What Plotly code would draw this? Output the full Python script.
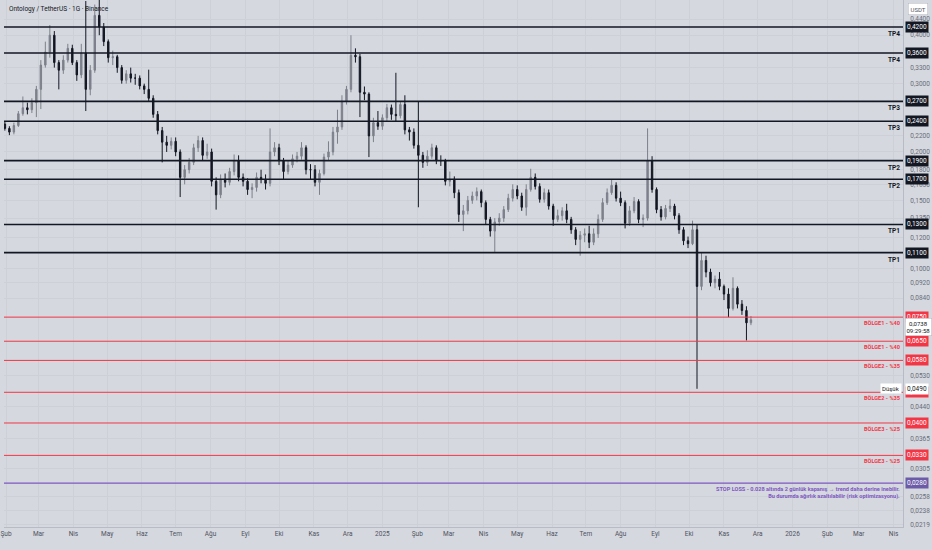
import numpy as np
import pandas as pd
import plotly.graph_objects as go

# 4-günlük mumlar (ONT/USDT), okunan değerler
open_ = [0.236, 0.230, 0.225, 0.234, 0.251, 0.260, 0.257, 0.268, 0.290, 0.335,
         0.362, 0.400, 0.340, 0.325, 0.345, 0.370, 0.340, 0.316, 0.360, 0.290,
         0.325, 0.450, 0.420, 0.385, 0.350, 0.352, 0.330, 0.306, 0.318, 0.310,
         0.310, 0.296, 0.290, 0.275, 0.250, 0.227, 0.212, 0.208, 0.213, 0.200,
         0.172, 0.180, 0.188, 0.205, 0.214, 0.196, 0.200, 0.168, 0.155, 0.170,
         0.167, 0.178, 0.190, 0.172, 0.168, 0.160, 0.162, 0.172, 0.170, 0.166,
         0.200, 0.205, 0.190, 0.178, 0.185, 0.192, 0.195, 0.205, 0.180, 0.180,
         0.167, 0.176, 0.194, 0.200, 0.225, 0.232, 0.270, 0.290, 0.355, 0.352,
         0.285, 0.282, 0.220, 0.238, 0.233, 0.245, 0.260, 0.250, 0.248, 0.265,
         0.228, 0.225, 0.208, 0.196, 0.188, 0.195, 0.205, 0.190, 0.190, 0.168,
         0.170, 0.157, 0.138, 0.141, 0.150, 0.154, 0.158, 0.148, 0.134, 0.125,
         0.132, 0.135, 0.142, 0.152, 0.160, 0.154, 0.144, 0.160, 0.172, 0.163,
         0.151, 0.157, 0.145, 0.134, 0.137, 0.141, 0.134, 0.126, 0.119, 0.122,
         0.123, 0.117, 0.123, 0.134, 0.148, 0.157, 0.164, 0.152, 0.148, 0.131,
         0.141, 0.149, 0.134, 0.135, 0.190, 0.160, 0.142, 0.136, 0.143, 0.145,
         0.137, 0.126, 0.118, 0.116, 0.126, 0.090, 0.105, 0.098, 0.092, 0.094,
         0.090, 0.086, 0.079, 0.089, 0.081, 0.078, 0.0725]
high = [0.240, 0.233, 0.238, 0.255, 0.278, 0.268, 0.275, 0.296, 0.345, 0.385,
        0.425, 0.410, 0.345, 0.355, 0.380, 0.378, 0.345, 0.380, 0.490, 0.335,
        0.480, 0.500, 0.430, 0.390, 0.365, 0.356, 0.335, 0.325, 0.330, 0.318,
        0.315, 0.300, 0.326, 0.280, 0.255, 0.232, 0.220, 0.218, 0.218, 0.203,
        0.185, 0.193, 0.210, 0.220, 0.218, 0.210, 0.204, 0.172, 0.175, 0.176,
        0.182, 0.197, 0.196, 0.176, 0.171, 0.166, 0.177, 0.180, 0.175, 0.230,
        0.212, 0.210, 0.193, 0.190, 0.197, 0.200, 0.212, 0.208, 0.186, 0.185,
        0.180, 0.198, 0.213, 0.232, 0.257, 0.280, 0.296, 0.400, 0.370, 0.358,
        0.295, 0.285, 0.245, 0.255, 0.250, 0.266, 0.265, 0.320, 0.270, 0.280,
        0.232, 0.230, 0.270, 0.200, 0.202, 0.210, 0.208, 0.196, 0.192, 0.178,
        0.173, 0.160, 0.146, 0.154, 0.158, 0.162, 0.160, 0.150, 0.136, 0.135,
        0.139, 0.145, 0.156, 0.165, 0.164, 0.157, 0.165, 0.181, 0.176, 0.166,
        0.161, 0.160, 0.147, 0.142, 0.144, 0.147, 0.136, 0.128, 0.125, 0.127,
        0.129, 0.127, 0.138, 0.152, 0.161, 0.170, 0.167, 0.158, 0.150, 0.145,
        0.153, 0.151, 0.138, 0.230, 0.195, 0.162, 0.145, 0.146, 0.151, 0.147,
        0.139, 0.128, 0.121, 0.133, 0.130, 0.110, 0.108, 0.100, 0.096, 0.098,
        0.091, 0.089, 0.095, 0.090, 0.083, 0.080, 0.0755]
low = [0.227, 0.221, 0.222, 0.232, 0.248, 0.250, 0.252, 0.246, 0.258, 0.330,
       0.350, 0.330, 0.290, 0.318, 0.340, 0.335, 0.305, 0.310, 0.255, 0.280,
       0.320, 0.400, 0.375, 0.340, 0.335, 0.320, 0.300, 0.300, 0.302, 0.298,
       0.290, 0.282, 0.270, 0.245, 0.222, 0.188, 0.200, 0.203, 0.195, 0.153,
       0.165, 0.176, 0.185, 0.200, 0.190, 0.192, 0.163, 0.142, 0.152, 0.162,
       0.164, 0.174, 0.168, 0.163, 0.155, 0.152, 0.158, 0.166, 0.160, 0.163,
       0.195, 0.185, 0.170, 0.175, 0.182, 0.188, 0.191, 0.175, 0.170, 0.163,
       0.155, 0.174, 0.190, 0.196, 0.210, 0.228, 0.265, 0.285, 0.340, 0.246,
       0.272, 0.194, 0.212, 0.228, 0.228, 0.240, 0.242, 0.240, 0.244, 0.222,
       0.214, 0.204, 0.144, 0.182, 0.184, 0.192, 0.186, 0.184, 0.164, 0.163,
       0.152, 0.132, 0.125, 0.138, 0.147, 0.150, 0.144, 0.130, 0.121, 0.1105,
       0.129, 0.132, 0.140, 0.149, 0.151, 0.141, 0.137, 0.158, 0.160, 0.148,
       0.148, 0.142, 0.129, 0.132, 0.133, 0.131, 0.123, 0.115, 0.108, 0.117,
       0.113, 0.115, 0.120, 0.132, 0.146, 0.155, 0.149, 0.145, 0.127, 0.129,
       0.139, 0.131, 0.128, 0.133, 0.157, 0.139, 0.133, 0.134, 0.140, 0.134,
       0.123, 0.115, 0.113, 0.115, 0.049, 0.088, 0.095, 0.090, 0.089, 0.088,
       0.083, 0.075, 0.078, 0.079, 0.076, 0.0653, 0.0715]
close_ = [0.230, 0.225, 0.234, 0.251, 0.260, 0.257, 0.268, 0.290, 0.335, 0.362,
          0.400, 0.340, 0.325, 0.345, 0.370, 0.340, 0.316, 0.360, 0.290, 0.325,
          0.450, 0.420, 0.385, 0.350, 0.352, 0.330, 0.306, 0.318, 0.310, 0.310,
          0.296, 0.290, 0.275, 0.250, 0.227, 0.212, 0.208, 0.213, 0.200, 0.172,
          0.180, 0.188, 0.205, 0.214, 0.196, 0.200, 0.168, 0.155, 0.170, 0.167,
          0.178, 0.190, 0.172, 0.168, 0.160, 0.162, 0.172, 0.170, 0.166, 0.200,
          0.205, 0.190, 0.178, 0.185, 0.192, 0.195, 0.205, 0.180, 0.180, 0.167,
          0.176, 0.194, 0.200, 0.225, 0.232, 0.270, 0.290, 0.355, 0.352, 0.285,
          0.282, 0.220, 0.238, 0.233, 0.245, 0.260, 0.250, 0.248, 0.265, 0.228,
          0.225, 0.208, 0.196, 0.188, 0.195, 0.205, 0.190, 0.190, 0.168, 0.170,
          0.157, 0.138, 0.141, 0.150, 0.154, 0.158, 0.148, 0.134, 0.125, 0.132,
          0.135, 0.142, 0.152, 0.160, 0.154, 0.144, 0.160, 0.172, 0.163, 0.151,
          0.157, 0.145, 0.134, 0.137, 0.141, 0.134, 0.126, 0.119, 0.122, 0.123,
          0.117, 0.123, 0.134, 0.148, 0.157, 0.164, 0.152, 0.148, 0.131, 0.141,
          0.149, 0.134, 0.135, 0.190, 0.160, 0.142, 0.136, 0.143, 0.145, 0.137,
          0.126, 0.118, 0.116, 0.126, 0.090, 0.105, 0.098, 0.092, 0.094, 0.090,
          0.086, 0.079, 0.089, 0.081, 0.078, 0.0725, 0.0738]
dates = pd.date_range(start="2024-01-31", periods=len(close_), freq="4D")

# seviyeler
tp_levels = [0.42, 0.36, 0.27, 0.24, 0.19, 0.17, 0.13, 0.11]
tp_names = ["TP4", "TP4", "TP3", "TP3", "TP2", "TP2", "TP1", "TP1"]
zone_levels = [0.075, 0.065, 0.058, 0.048, 0.040, 0.033]
zone_names = ["BÖLGE1 - %40", "BÖLGE1 - %40", "BÖLGE2 - %35",
              "BÖLGE2 - %35", "BÖLGE3 - %25", "BÖLGE3 - %25"]
stop_level = 0.028
last_price = 0.0738
low_price = 0.0490

axis_ticks = [0.44, 0.40, 0.33, 0.30, 0.22, 0.20, 0.18, 0.165, 0.15, 0.135, 0.12,
              0.10, 0.092, 0.084, 0.053, 0.044, 0.0365, 0.0305, 0.0258, 0.0238, 0.0219]
month_ticks = ["2024-02-01", "2024-03-01", "2024-04-01", "2024-05-01", "2024-06-01",
               "2024-07-01", "2024-08-01", "2024-09-01", "2024-10-01", "2024-11-01",
               "2024-12-01", "2025-01-01", "2025-02-01", "2025-03-01", "2025-04-01",
               "2025-05-01", "2025-06-01", "2025-07-01", "2025-08-01", "2025-09-01",
               "2025-10-01", "2025-11-01", "2025-12-01", "2026-01-01", "2026-02-01",
               "2026-03-01", "2026-04-01"]
month_labels = ["Şub", "Mar", "Nis", "May", "Haz", "Tem", "Ağu", "Eyl", "Eki", "Kas",
                "Ara", "2025", "Şub", "Mar", "Nis", "May", "Haz", "Tem", "Ağu", "Eyl",
                "Eki", "Kas", "Ara", "2026", "Şub", "Mar", "Nis"]


def fmt(v):
    return f"{v:.4f}".replace(".", ",")


BG = "#d5d8df"
RED = "#f23645"
PURPLE = "#7e57c2"
DARK = "#131722"
FONT = "Roboto"

fig = go.Figure()

fig.add_trace(go.Candlestick(
    x=dates, open=open_, high=high, low=low, close=close_,
    increasing=dict(line=dict(color="#7d808a", width=1), fillcolor="#7d808a"),
    decreasing=dict(line=dict(color=DARK, width=1), fillcolor=DARK),
    whiskerwidth=0, showlegend=False, hoverinfo="skip",
))

line_x = ["2024-01-01", "2026-06-01"]
for lv in tp_levels:
    fig.add_trace(go.Scatter(x=line_x, y=[lv, lv], mode="lines",
                             line=dict(color=DARK, width=1.6), showlegend=False, hoverinfo="skip"))
for lv in zone_levels:
    fig.add_trace(go.Scatter(x=line_x, y=[lv, lv], mode="lines",
                             line=dict(color=RED, width=1), showlegend=False, hoverinfo="skip"))
fig.add_trace(go.Scatter(x=line_x, y=[stop_level, stop_level], mode="lines",
                         line=dict(color=PURPLE, width=1.2), showlegend=False, hoverinfo="skip"))

ann = []
# çizgi etiketleri
for lv, name in zip(tp_levels, tp_names):
    ann.append(dict(xref="paper", x=1, xanchor="right", xshift=-1, yref="y", y=np.log10(lv),
                    yanchor="top", yshift=-1, text=f"<b>{name}</b>", showarrow=False,
                    font=dict(size=6.5, color=DARK, family=FONT)))
for lv, name in zip(zone_levels, zone_names):
    ann.append(dict(xref="paper", x=1, xanchor="right", xshift=-1, yref="y", y=np.log10(lv),
                    yanchor="top", yshift=-1, text=f"<b>{name}</b>", showarrow=False,
                    font=dict(size=5.6, color=RED, family=FONT)))
ann.append(dict(xref="paper", x=1, xanchor="right", xshift=-1, yref="y", y=np.log10(stop_level),
                yanchor="top", yshift=-1, align="right", showarrow=False,
                text="<b>STOP LOSS - 0.028 altında 2 günlük kapanış → trend daha derine inebilir.<br>"
                     "Bu durumda ağırlık azaltılabilir (risk optimizasyonu).</b>",
                font=dict(size=5.6, color=PURPLE, family=FONT)))

# fiyat ekseni etiketleri
for lv in tp_levels:
    ann.append(dict(xref="paper", x=1, xanchor="left", xshift=2, yref="y", y=np.log10(lv),
                    text=fmt(lv), showarrow=False, bgcolor=DARK, borderpad=1,
                    font=dict(size=6.5, color="white", family=FONT)))
for lv in zone_levels:
    ann.append(dict(xref="paper", x=1, xanchor="left", xshift=2, yref="y", y=np.log10(lv),
                    text=fmt(lv), showarrow=False, bgcolor=RED, borderpad=1,
                    font=dict(size=6.5, color="white", family=FONT)))
ann.append(dict(xref="paper", x=1, xanchor="left", xshift=2, yref="y", y=np.log10(stop_level),
                text=fmt(stop_level), showarrow=False, bgcolor="#6c5ba7", borderpad=1,
                font=dict(size=6.5, color="white", family=FONT)))
ann.append(dict(xref="paper", x=1, xanchor="left", xshift=2, yref="y", y=np.log10(last_price),
                yanchor="top", yshift=2, text=fmt(last_price) + "<br>09:29:58", showarrow=False,
                bgcolor="white", bordercolor="#b2b5be", borderwidth=0.5, borderpad=1,
                font=dict(size=6, color=DARK, family=FONT)))
ann.append(dict(xref="paper", x=1, xanchor="left", xshift=2, yref="y", y=np.log10(low_price),
                text=fmt(low_price), showarrow=False, bgcolor="white", borderpad=1,
                font=dict(size=6.5, color=DARK, family=FONT)))
ann.append(dict(xref="paper", x=1, xanchor="right", xshift=-1, yref="y", y=np.log10(low_price),
                text="Düşük", showarrow=False, bgcolor="white", borderpad=1,
                font=dict(size=6, color=DARK, family=FONT)))
ann.append(dict(xref="paper", x=1, xanchor="left", xshift=5, yref="paper", y=1,
                yanchor="top", yshift=-3, text="USDT", showarrow=False, bgcolor="white",
                bordercolor="#b2b5be", borderwidth=0.5, borderpad=2,
                font=dict(size=6, color="#50535e", family=FONT)))
ann.append(dict(xref="paper", x=0, xanchor="left", xshift=3, yref="paper", y=1,
                yanchor="top", yshift=-3, text="Ontology / TetherUS · 1G · Binance",
                showarrow=False, font=dict(size=6.5, color=DARK, family=FONT)))

fig.update_layout(
    width=932, height=550,
    margin=dict(l=0, r=29, t=0, b=23),
    plot_bgcolor=BG, paper_bgcolor=BG,
    font=dict(family=FONT, size=6.5, color="#50535e"),
    annotations=ann,
    showlegend=False,
    boxgap=0.55,
    xaxis=dict(
        type="date", range=["2024-01-30 05:00", "2026-04-09 08:00"],
        rangeslider=dict(visible=False),
        tickvals=month_ticks, ticktext=month_labels, ticks="",
        ticklabeloverflow="allow",
        tickfont=dict(size=6.5, color="#50535e"),
        showgrid=True, gridcolor="#cdd0d7", gridwidth=1,
        showline=True, linecolor="#b8bbc3", linewidth=1, zeroline=False,
    ),
    yaxis=dict(
        type="log", side="right",
        range=[np.log10(0.02157), np.log10(0.493)],
        tickvals=axis_ticks, ticktext=[fmt(v) for v in axis_ticks], ticks="",
        ticklabelstandoff=5,
        tickfont=dict(size=6.5, color="#6a6d78"),
        showgrid=True, gridcolor="#cdd0d7", gridwidth=1,
        showline=True, linecolor="#b8bbc3", linewidth=1, zeroline=False,
    ),
)

# sayfa kenar boşluğunu kaldır, araç çubuğunu gizle
fig.write_html("out.html", config={"displayModeBar": False},
               post_script="document.body.style.margin='0px';")
